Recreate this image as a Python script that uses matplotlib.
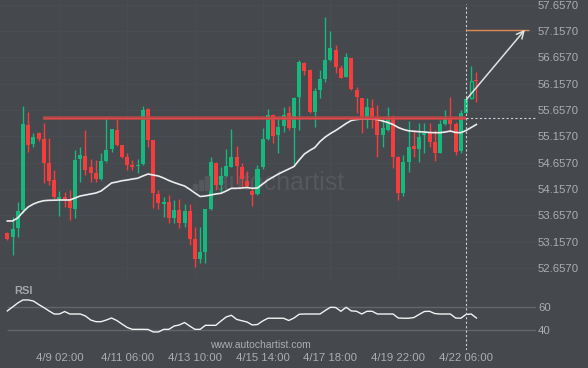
import matplotlib
matplotlib.use("Agg")
import matplotlib.pyplot as plt
from matplotlib.patches import Rectangle

plt.rcParams['font.family'] = ['Liberation Sans', 'DejaVu Sans']

# 4h candles, price data
opens = [53.319, 53.243, 53.425, 53.761, 55.374, 55.014, 55.217, 55.108, 54.653, 54.330,
         53.976, 54.002, 53.976, 53.780, 54.735, 54.792, 54.571, 54.458, 54.349, 54.691,
         54.913, 55.279, 54.995, 54.773, 54.615, 54.590, 54.634, 55.678, 55.090, 54.065,
         53.875, 53.919, 53.604, 53.761, 53.509, 53.748, 53.211, 52.826, 52.970, 53.780,
         54.659, 54.236, 54.406, 54.583, 54.767, 54.583, 54.317, 54.116, 54.065, 54.571,
         55.103, 55.564, 55.184, 55.355, 55.596, 55.312, 55.900, 56.556, 56.418, 55.626,
         56.038, 56.241, 56.608, 56.797, 56.450, 56.291, 56.651, 56.038, 55.881, 55.532,
         55.691, 55.532, 55.184, 55.279, 55.501, 54.761, 54.089, 54.678, 54.976, 54.913,
         55.190, 55.228, 55.052, 54.848, 55.393, 55.482, 55.393, 54.881, 55.607, 55.881,
         56.228]
closes = [53.217, 53.395, 53.748, 55.393, 54.995, 55.152, 55.108, 54.653, 54.317, 54.002,
          54.014, 53.951, 53.805, 54.710, 54.805, 54.520, 54.469, 54.349, 54.691, 54.900,
          55.298, 54.995, 54.761, 54.615, 54.571, 54.602, 55.659, 55.090, 54.089, 53.900,
          53.919, 53.604, 53.761, 53.509, 53.748, 53.205, 52.832, 52.970, 53.780, 54.678,
          54.236, 54.406, 54.596, 54.761, 54.590, 54.344, 54.217, 54.046, 54.534, 55.103,
          55.564, 55.165, 55.342, 55.564, 55.312, 55.881, 56.575, 56.404, 55.626, 56.019,
          56.241, 56.608, 56.830, 56.480, 56.272, 56.659, 56.057, 55.900, 55.501, 55.710,
          55.532, 55.184, 55.312, 55.501, 54.773, 54.089, 54.666, 54.951, 54.913, 55.141,
          55.217, 55.052, 54.848, 55.393, 55.482, 55.393, 54.867, 55.607, 55.862, 56.215,
          56.209]
highs = [53.344, 53.634, 53.919, 55.735, 55.615, 55.228, 55.247, 55.406, 55.122, 54.520,
         54.127, 54.109, 54.141, 54.900, 54.962, 55.279, 54.729, 54.710, 54.843, 55.507,
         55.298, 55.488, 54.995, 54.843, 54.710, 54.723, 55.735, 55.697, 55.090, 54.141,
         54.014, 54.046, 53.951, 53.964, 53.875, 53.875, 53.444, 53.444, 53.780, 54.761,
         54.678, 54.583, 54.913, 55.293, 54.976, 54.653, 54.507, 54.173, 54.615, 55.312,
         55.672, 55.583, 55.520, 55.721, 55.735, 55.900, 56.607, 56.575, 56.437, 56.076,
         56.418, 57.429, 57.163, 56.892, 56.513, 56.746, 56.651, 56.101, 55.881, 55.881,
         55.862, 55.754, 55.501, 55.721, 55.564, 54.786, 54.805, 55.456, 55.279, 55.406,
         55.418, 55.418, 55.279, 55.469, 55.659, 55.900, 55.431, 55.659, 55.881, 56.494,
         56.380]
lows = [53.192, 52.907, 53.255, 53.699, 54.868, 54.951, 55.071, 54.268, 54.236, 53.970,
        53.647, 53.824, 53.572, 53.604, 54.293, 54.425, 54.298, 54.298, 54.330, 54.678,
        54.868, 54.976, 54.748, 54.520, 54.520, 54.458, 54.615, 54.962, 53.799, 53.780,
        53.634, 53.509, 53.509, 53.414, 53.444, 53.097, 52.685, 52.750, 52.761, 53.761,
        54.141, 54.078, 54.393, 54.571, 54.254, 54.203, 54.173, 53.837, 54.046, 54.534,
        55.090, 55.038, 54.848, 55.247, 55.279, 54.615, 55.279, 56.323, 55.602, 55.342,
        55.881, 56.196, 56.594, 56.355, 56.260, 56.279, 56.044, 55.608, 55.222, 55.312,
        55.312, 54.773, 54.962, 55.260, 54.552, 53.951, 54.027, 54.488, 54.773, 54.678,
        54.837, 54.962, 54.697, 54.837, 55.374, 55.247, 54.805, 54.837, 55.596, 55.862,
        55.816]
ma = [53.553, 53.553, 53.610, 53.723, 53.818, 53.875, 53.913, 53.938, 53.945, 53.947,
      53.951, 53.951, 53.951, 53.989, 54.027, 54.046, 54.065, 54.084, 54.122, 54.198,
      54.274, 54.293, 54.317, 54.330, 54.349, 54.363, 54.406, 54.444, 54.425, 54.406,
      54.368, 54.321, 54.283, 54.249, 54.217, 54.154, 54.084, 54.017, 54.027, 54.046,
      54.065, 54.078, 54.122, 54.173, 54.173, 54.179, 54.188, 54.173, 54.179, 54.255,
      54.330, 54.387, 54.444, 54.492, 54.539, 54.587, 54.710, 54.824, 54.890, 54.947,
      55.061, 55.146, 55.213, 55.270, 55.336, 55.403, 55.460, 55.478, 55.488, 55.488,
      55.488, 55.478, 55.450, 55.422, 55.384, 55.327, 55.289, 55.264, 55.255, 55.247,
      55.241, 55.232, 55.228, 55.228, 55.241, 55.260, 55.232, 55.228, 55.270, 55.327,
      55.384]
rsi = [56.4, 59.7, 63.1, 65.7, 65.7, 64.8, 61.9, 59.3, 56.4, 53.8,
       53.8, 55.9, 53.8, 53.8, 53.8, 52.1, 48.7, 47.3, 47.3, 48.7,
       50.4, 48.3, 45.3, 42.4, 40.8, 40.8, 40.8, 40.7, 38.6, 38.6,
       40.8, 40.8, 43.6, 44.5, 46.6, 43.6, 40.8, 40.8, 44.2, 44.2,
       44.2, 47.9, 51.3, 52.7, 49.2, 48.1, 47.0, 44.5, 44.9, 47.9,
       50.2, 50.2, 50.2, 50.2, 48.3, 50.4, 53.6, 53.8, 53.8, 53.8,
       53.8, 56.8, 59.5, 59.3, 56.1, 59.5, 56.4, 56.1, 53.8, 56.1,
       56.1, 53.8, 53.8, 53.8, 53.8, 50.4, 50.2, 50.2, 50.8, 53.4,
       55.9, 56.1, 54.2, 53.8, 53.8, 53.8, 50.4, 50.2, 53.4, 53.8,
       50.4]

tick_pos = [10, 23, 36, 49, 62, 75, 88]
tick_labels = ['4/9 02:00', '4/11 06:00', '4/13 10:00', '4/15 14:00',
               '4/17 18:00', '4/19 22:00', '4/22 06:00']
price_ticks = [52.657, 53.157, 53.657, 54.157, 54.657, 55.157, 55.657,
               56.157, 56.657, 57.157, 57.657]

resistance = 55.515
res_start = 6.8
signal_idx = 88
target = 57.18
arrow_start = 55.862
arrow_end_idx = 99.3
hollow = [89]

bg = '#45484d'
txt = '#aaadb2'
green = '#17b87e'
red = '#f53d3d'

W, H = 588, 368
fig = plt.figure(figsize=(W / 100, H / 100), dpi=100, facecolor=bg)
ax = fig.add_axes([0, (H - 280) / H, 536 / W, 280 / H], facecolor=bg)
ax2 = fig.add_axes([0, (H - 350) / H, 536 / W, 70 / H], facecolor=bg, sharex=ax)

xmin, xmax = -1.40, 101.43
ax.set_xlim(xmin, xmax)
ax.set_ylim(52.433, 57.746)
ax2.set_ylim(23.3, 82.6)

for a in (ax, ax2):
    for s in a.spines.values():
        s.set_visible(False)
    a.tick_params(length=0, colors=txt, labelsize=8)

# faint grid
for p in price_ticks:
    ax.axhline(p, color='#494c51', lw=0.8, zorder=0)
for t in tick_pos:
    ax.axvline(t, color='#494c51', lw=0.8, zorder=0)

# watermark
ax.text(215 / 536, 1 - 190 / 280, 'autochartist', transform=ax.transAxes,
        fontsize=18, color='#55585d', ha='left', va='baseline', zorder=1)
for k, h in enumerate([6, 10, 14]):
    fig.patches.append(Rectangle(((193 + 6 * k) / W, (H - 190) / H), 4 / W, h / H,
                                 transform=fig.transFigure, color='#55585d', zorder=1))

# candles
for i in range(len(opens)):
    o, c = opens[i], closes[i]
    col = green if c >= o else red
    ax.vlines(i, lows[i], highs[i], color=col, lw=1, zorder=2)
    bottom = min(o, c)
    height = max(abs(c - o), 0.02)
    if i in hollow:
        ax.bar(i, height, 0.62, bottom, facecolor=bg, edgecolor=col, lw=1, zorder=2)
    else:
        ax.bar(i, height, 0.77, bottom, color=col, lw=0, zorder=2)

ax.plot(range(len(ma)), ma, color='#ececec', lw=1.2, zorder=3)

# resistance line and breakout
ax.hlines(resistance, res_start, signal_idx, color='#b84848', lw=2.6, alpha=0.85, zorder=4)
ax.hlines(resistance, res_start, signal_idx, color='#e24646', lw=1.0, zorder=4)
ax.hlines(resistance, signal_idx, 101.6, color='#cfcfcf', lw=0.8,
          linestyles=(0, (2, 2)), zorder=4, clip_on=False)
ax.axvline(signal_idx, ymin=0, ymax=1 - 4 / 280, color='#cfcfcf', lw=0.8,
           ls=(0, (2, 2)), zorder=4)
ax2.axvline(signal_idx, color='#cfcfcf', lw=0.8, ls=(0, (2, 2)), zorder=4)
ax.hlines(target, signal_idx, 100.1, color='#e08a55', lw=1.0, zorder=4)
ax.annotate('', xy=(arrow_end_idx, target), xytext=(signal_idx + 0.1, arrow_start),
            arrowprops=dict(arrowstyle='->', color='#e2e2e2', lw=1.1,
                            mutation_scale=13, shrinkA=0, shrinkB=0), zorder=5)

ax.yaxis.tick_right()
ax.set_yticks(price_ticks)
ax.set_yticklabels(['%.4f' % p for p in price_ticks])
ax.tick_params(axis='y', pad=1.5, labelsize=8.2)
ax.tick_params(axis='x', labelbottom=False)

# RSI panel
ax2.hlines([40, 60], 0, xmax, color='#62656a', lw=1, zorder=1)
ax2.plot(range(len(rsi)), rsi, color='#f2f2f2', lw=1, zorder=3)
ax2.yaxis.tick_right()
ax2.set_yticks([40, 60])
ax2.set_yticklabels(['40', '60'])
ax2.tick_params(axis='y', pad=1.5, labelsize=8.2)
ax2.set_xticks(tick_pos)
ax2.set_xticklabels(tick_labels)
ax2.tick_params(axis='x', pad=2, labelsize=8.2)
for lab in ax2.get_xticklabels():
    lab.set_x(lab.get_position()[0])
ax2.text(14 / 536, 60 + 15.7 / 1.18, 'RSI', transform=ax2.get_yaxis_transform(),
         fontsize=8, fontweight='bold', color='#a3a7ac', ha='left', va='center')

fig.text(260 / W, 1 - 345 / H, 'www.autochartist.com', fontsize=7.5, color=txt,
         ha='center', va='center')

fig.savefig('out.png', dpi=100, facecolor=bg)
